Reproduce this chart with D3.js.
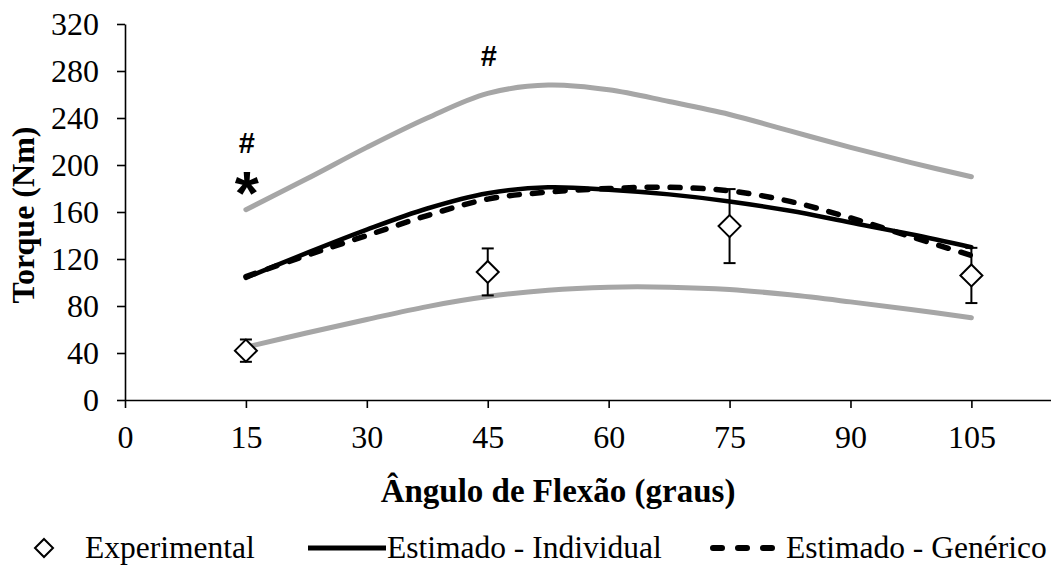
<!DOCTYPE html>
<html>
<head>
<meta charset="utf-8">
<script src="https://cdn.jsdelivr.net/npm/d3@7"></script>
<style>
  html, body { margin: 0; padding: 0; background: #fff; }
  svg { display: block; }
  text { font-family: "Liberation Serif", "Times New Roman", serif; fill: #000; }
</style>
</head>
<body>
<svg id="chart" width="1051" height="565"></svg>
<script>
// Knee flexion angle (degrees) sampled for the model curves
const angles = [15, 22.5, 30, 37.5, 45, 52.5, 60, 67.5, 75, 82.5, 90, 97.5, 105];

// Estimated torque, individual model (Nm)
const individual = [104, 125, 145, 163, 176, 181, 179, 175, 169, 161, 151, 141, 130];
// Estimated torque, generic model (Nm)
const generic = [105, 123, 140, 157, 171, 177, 180, 181, 178, 169, 155, 139, 123];
// Upper and lower bounds of the generic model (grey band limits)
const upperBound = [162, 188, 215, 240, 261, 268, 264, 254, 243, 229, 215, 202, 190];
const lowerBound = [45, 57, 68.5, 79.5, 88, 93.5, 96, 96, 94, 89.5, 83.5, 77, 70];

// Measured torque: mean and standard deviation at each tested angle
const expAngles = [15, 45, 75, 105];
const expMean = [42, 109, 148, 106];
const expSD = [9.5, 20, 31.5, 23.5];

// Axis ticks
const xTicks = [0, 15, 30, 45, 60, 75, 90, 105];
const yTicks = [0, 40, 80, 120, 160, 200, 240, 280, 320];

// Significance markers
const markers = [
  { angle: 15, value: 219, label: "#" },
  { angle: 15, value: 189, label: "*" },
  { angle: 45, value: 293, label: "#" }
];

const svg = d3.select("#chart");

const x = d3.scaleLinear().domain([0, 115]).range([125, 1052]);
const y = d3.scaleLinear().domain([0, 320]).range([400, 24]);

// Axes
const xAxis = svg.append("g")
  .attr("transform", `translate(0,${y(0)})`)
  .call(d3.axisBottom(x).tickValues(xTicks).tickSize(8).tickSizeOuter(0).tickFormat(d3.format("d")));
xAxis.select(".domain").attr("stroke", "#000").attr("stroke-width", 1.6);
xAxis.selectAll(".tick line").attr("stroke", "#000").attr("stroke-width", 1.6);
xAxis.selectAll(".tick text")
  .attr("y", 48).attr("dy", null)
  .style("font-size", "32px")
  .style("font-family", "'Liberation Serif', 'Times New Roman', serif");

const yAxis = svg.append("g")
  .attr("transform", `translate(${x(0)},0)`)
  .call(d3.axisLeft(y).tickValues(yTicks).tickSize(8).tickSizeOuter(0).tickPadding(18).tickFormat(d3.format("d")));
yAxis.select(".domain").attr("stroke", "#000").attr("stroke-width", 1.6);
yAxis.selectAll(".tick line").attr("stroke", "#000").attr("stroke-width", 1.6);
yAxis.selectAll(".tick text")
  .attr("dy", "0.34em")
  .style("font-size", "32px")
  .style("font-family", "'Liberation Serif', 'Times New Roman', serif");

// Model curves
const line = d3.line()
  .x((d, i) => x(angles[i]))
  .y(d => y(d))
  .curve(d3.curveCatmullRom.alpha(0.5));

svg.append("path").datum(upperBound)
  .attr("d", line).attr("fill", "none")
  .attr("stroke", "#a6a6a6").attr("stroke-width", 5).attr("stroke-linecap", "round");
svg.append("path").datum(lowerBound)
  .attr("d", line).attr("fill", "none")
  .attr("stroke", "#a6a6a6").attr("stroke-width", 5).attr("stroke-linecap", "round");
svg.append("path").datum(individual)
  .attr("d", line).attr("fill", "none")
  .attr("stroke", "#000").attr("stroke-width", 4.5).attr("stroke-linecap", "round");
svg.append("path").datum(generic)
  .attr("d", line).attr("fill", "none")
  .attr("stroke", "#000").attr("stroke-width", 5.5)
  .attr("stroke-linecap", "round").attr("stroke-dasharray", "10 13");

// Experimental points with error bars
const diamond = s => `M0,${-s}L${s},0L0,${s}L${-s},0Z`;
const exp = svg.append("g");
expAngles.forEach((a, i) => {
  const cx = x(a), top = y(expMean[i] + expSD[i]), bot = y(expMean[i] - expSD[i]);
  const g = exp.append("g");
  g.append("line").attr("x1", cx).attr("x2", cx).attr("y1", top).attr("y2", bot)
    .attr("stroke", "#000").attr("stroke-width", 2);
  [top, bot].forEach(yy => g.append("line")
    .attr("x1", cx - 6).attr("x2", cx + 6).attr("y1", yy).attr("y2", yy)
    .attr("stroke", "#000").attr("stroke-width", 2));
  g.append("path").attr("d", diamond(11))
    .attr("transform", `translate(${cx},${y(expMean[i])})`)
    .attr("fill", "#fff").attr("stroke", "#000").attr("stroke-width", 2);
});

// Significance markers, centred on the value they flag
markers.forEach(m => {
  const t = svg.append("text")
    .attr("x", x(m.angle) + 1)
    .attr("y", y(m.value))
    .attr("text-anchor", "middle")
    .attr("font-weight", "bold")
    .style("font-family", "'Liberation Sans', Arial, sans-serif")
    .text(m.label);
  if (m.label === "*") {
    t.style("font-size", "62px").attr("dy", "0.58em");
  } else {
    t.style("font-size", "29px").attr("dy", "0.36em");
  }
});

// Axis titles
svg.append("text")
  .attr("x", 558).attr("y", 502)
  .attr("text-anchor", "middle")
  .attr("font-weight", "bold")
  .style("font-size", "33px")
  .text("Ângulo de Flexão (graus)");

svg.append("text")
  .attr("transform", "translate(34,215) rotate(-90)")
  .attr("text-anchor", "middle")
  .attr("font-weight", "bold")
  .style("font-size", "32px")
  .text("Torque (Nm)");

// Legend
const legendY = 548;
const legendBase = 558;
const legend = svg.append("g");
legend.append("path").attr("d", diamond(9))
  .attr("transform", `translate(44,${legendY})`)
  .attr("fill", "#fff").attr("stroke", "#000").attr("stroke-width", 2);
legend.append("text").attr("x", 85).attr("y", legendBase).style("font-size", "31.5px").text("Experimental");

legend.append("line").attr("x1", 308).attr("x2", 386).attr("y1", legendY).attr("y2", legendY)
  .attr("stroke", "#000").attr("stroke-width", 5);
legend.append("text").attr("x", 387).attr("y", legendBase).style("font-size", "31.5px").text("Estimado - Individual");

legend.append("line").attr("x1", 713).attr("x2", 775).attr("y1", legendY).attr("y2", legendY)
  .attr("stroke", "#000").attr("stroke-width", 6)
  .attr("stroke-linecap", "round").attr("stroke-dasharray", "9 16");
legend.append("text").attr("x", 786).attr("y", legendBase).style("font-size", "31.5px").text("Estimado - Genérico");
</script>
</body>
</html>
